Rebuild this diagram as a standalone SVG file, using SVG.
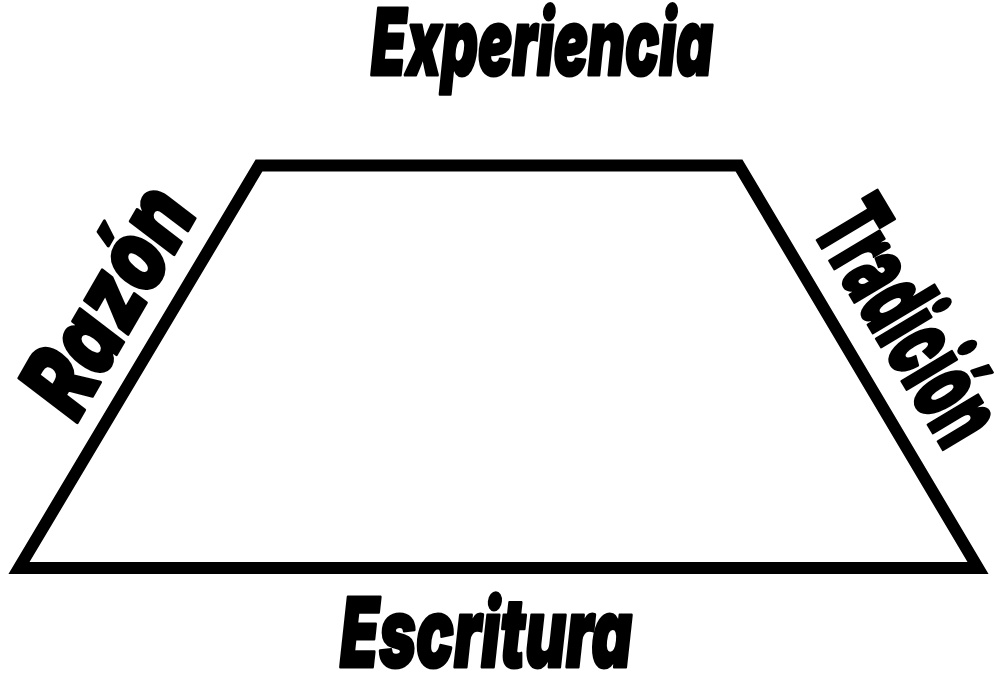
<svg xmlns="http://www.w3.org/2000/svg" width="1000" height="677" viewBox="0 0 1000 677">
<style>
.lbl{font-family:Inter,"Liberation Sans",Arial,sans-serif;font-weight:900;font-style:italic;fill:#000;stroke:#000;stroke-width:3;stroke-linejoin:round}
.up{font-style:normal}
</style>
<rect width="1000" height="677" fill="#fff"/>
<g id="connectors">
<polygon points="259,165.5 739,165.5 978,568 19,568" fill="none" stroke="#000" stroke-width="12" stroke-linejoin="miter" stroke-miterlimit="10"/>
</g>
<g id="experiencia"><text class="lbl" x="371" y="75" font-size="92" textLength="342" lengthAdjust="spacingAndGlyphs">Experiencia</text></g>
<g id="escritura"><text class="lbl" x="340" y="667" font-size="96" textLength="292" lengthAdjust="spacingAndGlyphs">Escritura</text></g>
<g id="razon"><text class="lbl" transform="translate(77,423) rotate(-60)" font-size="100" textLength="244" lengthAdjust="spacingAndGlyphs">Razón</text></g>
<g id="tradicion"><text class="lbl up" transform="translate(810,228) rotate(59)" font-size="106" textLength="262" lengthAdjust="spacingAndGlyphs">Tradición</text></g>
</svg>
